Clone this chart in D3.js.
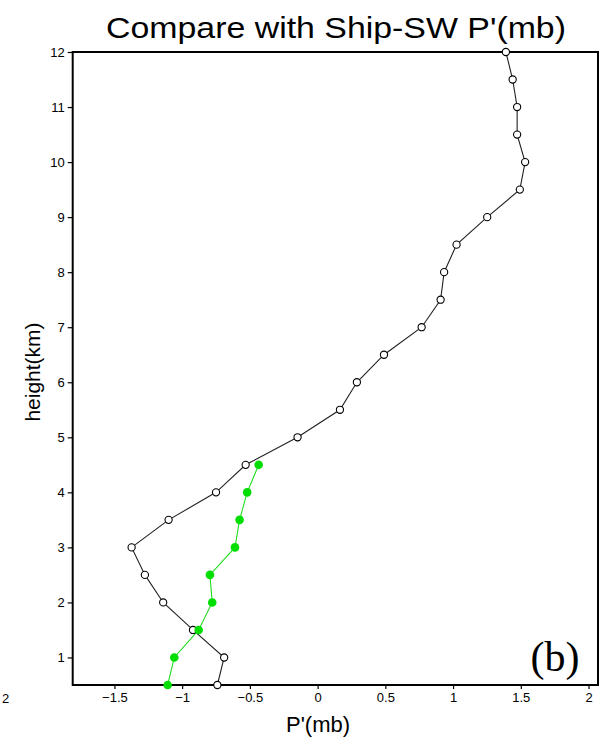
<!DOCTYPE html>
<html>
<head>
<meta charset="utf-8">
<script src="https://cdn.jsdelivr.net/npm/d3@7"></script>
<style>
  body { margin: 0; background: #fff; }
  svg { display: block; }
  .axis text { font-family: "Liberation Sans", Arial, sans-serif; font-size: 13px; fill: #000; }
  .axis line { stroke: #000; stroke-width: 1.2; }
</style>
</head>
<body>
<div id="chart"></div>
<script>
// heights (km) of the profile levels
const heights = [0.5, 1, 1.5, 2, 2.5, 3, 3.5, 4, 4.5, 5, 5.5, 6, 6.5, 7, 7.5, 8, 8.5, 9, 9.5, 10, 10.5, 11, 11.5, 12];
// model P' (mb), open circles
const modelP = [-0.74, -0.69, -0.92, -1.14, -1.275, -1.373, -1.10, -0.75, -0.531, -0.148, 0.165, 0.29, 0.49, 0.768, 0.908, 0.934, 1.026, 1.252, 1.493, 1.532, 1.473, 1.473, 1.44, 1.39];
// ship-SW observed P' (mb), green dots (0.5 - 4.5 km)
const shipHeights = [0.5, 1, 1.5, 2, 2.5, 3, 3.5, 4, 4.5];
const shipP = [-1.107, -1.058, -0.878, -0.778, -0.795, -0.61, -0.576, -0.52, -0.435];
const xTicks = [-1.5, -1, -0.5, 0, 0.5, 1, 1.5, 2];
const yTicks = [1, 2, 3, 4, 5, 6, 7, 8, 9, 10, 11, 12];

const width = 603;
const height = 747;
const margin = {top: 52, right: 5, bottom: 62, left: 72.7};
const chartWidth = width - margin.left - margin.right;
const chartHeight = height - margin.top - margin.bottom;

const svg = d3.select('#chart')
  .append('svg')
    .attr('width', width)
    .attr('height', height);

const xScale = d3.scaleLinear()
    .domain([-1.808, 2.07])
    .range([0, chartWidth]);

const yScale = d3.scaleLinear()
    .domain([0.5, 12])
    .range([chartHeight, 0]);

const g = svg.append('g')
    .attr('transform', `translate(${margin.left},${margin.top})`);

// axes
const xAxis = d3.axisBottom(xScale)
    .tickValues(xTicks)
    .tickFormat(d3.format('~g'))
    .tickSize(4)
    .tickSizeOuter(0)
    .tickPadding(4);

const yAxis = d3.axisLeft(yScale)
    .tickValues(yTicks)
    .tickFormat(d3.format('~g'))
    .tickSize(5)
    .tickSizeOuter(0)
    .tickPadding(3);

g.append('g')
    .classed('axis x-axis', true)
    .attr('transform', `translate(0,${chartHeight})`)
    .call(xAxis)
    .call(s => s.select('.domain').remove());

g.append('g')
    .classed('axis y-axis', true)
    .call(yAxis)
    .call(s => s.select('.domain').remove());

// frame
g.append('rect')
    .attr('x', 0)
    .attr('y', 0)
    .attr('width', chartWidth)
    .attr('height', chartHeight)
    .attr('fill', 'none')
    .attr('stroke', '#000')
    .attr('stroke-width', 2);

const modelData = heights.map((h, i) => ({h, p: modelP[i]}));
const shipData = shipHeights.map((h, i) => ({h, p: shipP[i]}));

const line = d3.line()
    .x(d => xScale(d.p))
    .y(d => yScale(d.h));

// model profile
g.append('path')
    .datum(modelData)
    .attr('d', line)
    .attr('fill', 'none')
    .attr('stroke', '#222')
    .attr('stroke-width', 1.1);

// ship profile
g.append('path')
    .datum(shipData)
    .attr('d', line)
    .attr('fill', 'none')
    .attr('stroke', '#22dd22')
    .attr('stroke-width', 1.1);

g.selectAll('.model-dot')
  .data(modelData)
  .enter().append('circle')
    .classed('model-dot', true)
    .attr('cx', d => xScale(d.p))
    .attr('cy', d => yScale(d.h))
    .attr('r', 3.6)
    .attr('fill', '#fff')
    .attr('stroke', '#000')
    .attr('stroke-width', 1.1);

g.selectAll('.ship-dot')
  .data(shipData)
  .enter().append('circle')
    .classed('ship-dot', true)
    .attr('cx', d => xScale(d.p))
    .attr('cy', d => yScale(d.h))
    .attr('r', 4.3)
    .attr('fill', '#00dd00');

// titles and labels
svg.append('text')
    .attr('x', 336)
    .attr('y', 38)
    .attr('text-anchor', 'middle')
    .attr('textLength', 460)
    .attr('lengthAdjust', 'spacingAndGlyphs')
    .style('font-family', '"Liberation Sans", Arial, sans-serif')
    .style('font-size', '29px')
    .text("Compare with Ship-SW P'(mb)");

svg.append('text')
    .attr('transform', 'translate(40,372) rotate(-90)')
    .attr('text-anchor', 'middle')
    .style('font-family', '"Liberation Sans", Arial, sans-serif')
    .style('font-size', '21px')
    .text('height(km)');

svg.append('text')
    .attr('x', 318)
    .attr('y', 732)
    .attr('text-anchor', 'middle')
    .style('font-family', '"Liberation Sans", Arial, sans-serif')
    .style('font-size', '22px')
    .text("P'(mb)");

svg.append('text')
    .attr('x', 555)
    .attr('y', 671)
    .attr('text-anchor', 'middle')
    .style('font-family', '"Liberation Serif", serif')
    .style('font-size', '42px')
    .text('(b)');

// stray tick label from the neighbouring panel
svg.append('text')
    .attr('x', 2)
    .attr('y', 703)
    .style('font-family', '"Liberation Sans", Arial, sans-serif')
    .style('font-size', '13px')
    .text('2');
</script>
</body>
</html>
